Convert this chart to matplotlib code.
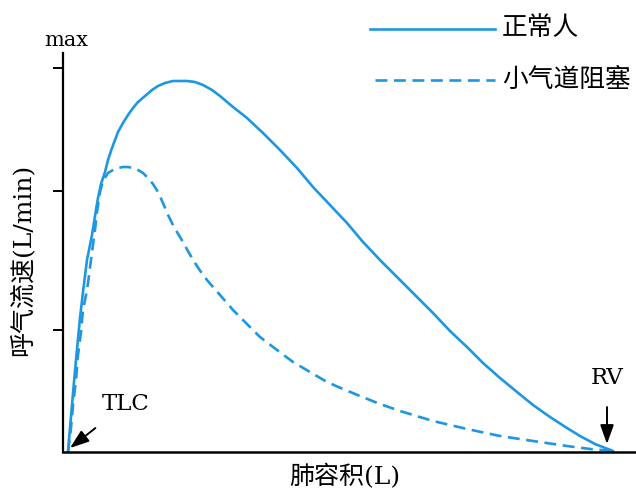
import numpy as np
import matplotlib
matplotlib.use("Agg")
import matplotlib.pyplot as plt
from matplotlib.lines import Line2D

# values (volume offset from TLC, flow; arbitrary units)
normal_x = [5, 7, 9, 11, 13, 15, 17, 20, 24, 27, 29, 32, 35, 38, 42, 45, 49, 52,
            55, 60, 65, 70, 75, 82, 89, 95, 102, 110, 117, 124, 132, 140, 149,
            157, 170, 184, 200, 217, 234, 250, 267, 284, 300, 317, 334, 350, 370,
            387, 404, 420, 437, 454, 470, 487, 504, 517, 532, 550]
normal_y = [0, 24, 47, 70, 92, 113, 134, 160, 192, 207, 217, 236, 254, 268, 280,
            292, 304, 312, 320, 329, 337, 344, 350, 356, 362, 366, 369, 371, 371,
            371, 370, 367, 362, 356, 345, 334, 319, 302, 284, 265, 247, 229, 210,
            192, 175, 159, 139, 121, 105, 89, 74, 60, 47, 35, 24, 16, 8, 1]

obstr_x = [5, 8, 10, 13, 15, 18, 20, 23, 25, 29, 32, 34, 37, 40, 45, 50, 55, 60,
           65, 70, 75, 80, 85, 90, 95, 100, 105, 110, 114, 120, 126, 132, 138,
           144, 150, 157, 164, 170, 177, 197, 214, 230, 247, 264, 280, 297, 317,
           337, 370, 404, 437, 470, 504, 527, 550]
obstr_y = [0, 24, 47, 72, 97, 120, 142, 157, 169, 200, 222, 240, 260, 271, 279,
           282, 284, 285, 285, 284, 282, 279, 274, 268, 260, 249, 237, 227, 220,
           210, 199, 189, 180, 172, 165, 157, 149, 142, 135, 115, 102, 90, 80,
           70, 63, 56, 48, 41, 31, 23, 16, 11, 6, 3, 1]

y_ticks = [122, 261, 384]
legend_labels = ["正常人", "小气道阻塞"]
blue = "#1e97e0"

W, H = 636, 492
fig = plt.figure(figsize=(W / 100, H / 100), dpi=100)
ax = fig.add_axes([63 / W, 40 / H, (W - 63) / W, 399 / H])

ax.plot(normal_x, normal_y, color=blue, lw=1.9, solid_capstyle="round",
        solid_joinstyle="round")
ax.plot(obstr_x, obstr_y, color=blue, lw=1.9, dashes=(4.5, 2.5))

ax.set_xlim(0, 573)
ax.set_ylim(0, 399)
ax.spines["top"].set_visible(False)
ax.spines["right"].set_visible(False)
ax.spines["left"].set_linewidth(1.6)
ax.spines["bottom"].set_linewidth(1.8)
ax.set_xticks([])
ax.set_yticks(y_ticks)
ax.set_yticklabels([])
ax.tick_params(axis="y", direction="out", length=7, width=1.4)

serif = ["DejaVu Serif", "Noto Sans CJK SC"]
ax.annotate("TLC", xy=(7, 4), xytext=(63, 48), ha="center", va="center",
            fontsize=16.5, family="DejaVu Serif",
            arrowprops=dict(arrowstyle="-|>,head_length=0.7,head_width=0.25",
                            color="black", lw=1.4, shrinkA=12, shrinkB=0))
ax.annotate("RV", xy=(544, 8), xytext=(544, 74), ha="center", va="center",
            fontsize=16.5, family="DejaVu Serif",
            arrowprops=dict(arrowstyle="-|>,head_length=0.7,head_width=0.25",
                            color="black", lw=1.4, shrinkA=11, shrinkB=0))

fig.text(66 / W, 1 - 40 / H, "max", ha="center", va="center", fontsize=15,
         family="DejaVu Serif")
fig.text(22 / W, 1 - 260 / H, "呼气流速(L/min)", rotation=90, ha="center",
         va="center", fontsize=18, family=serif)
fig.text(345 / W, 1 - 477 / H, "肺容积(L)", ha="center", va="center",
         fontsize=18, family=serif)

# legend drawn by hand above the plot
fig.add_artist(Line2D([370 / W, 495 / W], [1 - 29 / H, 1 - 29 / H],
                      color=blue, lw=1.9))
fig.add_artist(Line2D([375 / W, 495 / W], [1 - 80 / H, 1 - 80 / H],
                      color=blue, lw=1.9, dashes=(4.5, 2.5)))
fig.text(502 / W, 1 - 28 / H, legend_labels[0], ha="left", va="center",
         fontsize=18.5, family="Noto Sans CJK SC")
fig.text(502 / W, 1 - 80 / H, legend_labels[1], ha="left", va="center",
         fontsize=18.5, family="Noto Sans CJK SC")

fig.savefig("out.png", dpi=100)
